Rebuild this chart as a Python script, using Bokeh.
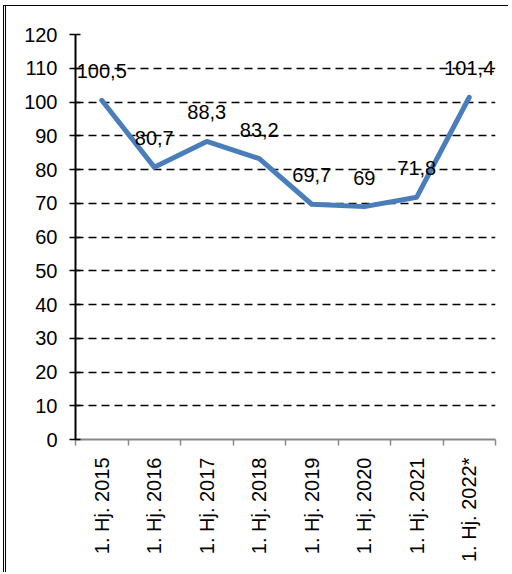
import math
from bokeh.plotting import figure
from bokeh.models import Range1d, FixedTicker, ColumnDataSource
from bokeh.core.properties import value
from bokeh.embed import file_html
from bokeh.resources import INLINE

categories = ["1. Hj. 2015", "1. Hj. 2016", "1. Hj. 2017", "1. Hj. 2018",
              "1. Hj. 2019", "1. Hj. 2020", "1. Hj. 2021", "1. Hj. 2022*"]
values = [100.5, 80.7, 88.3, 83.2, 69.7, 69.0, 71.8, 101.4]
y_ticks = [0, 10, 20, 30, 40, 50, 60, 70, 80, 90, 100, 110, 120]

FONT = "Liberation Sans"
FS = "20px"

xs = [i + 0.5 for i in range(len(categories))]
labels = [f"{v:g}".replace(".", ",") for v in values]
src = ColumnDataSource(dict(x=xs, y=values, label=labels))

p = figure(width=505, height=567, output_backend="svg", toolbar_location=None,
           x_range=Range1d(0, len(categories)), y_range=Range1d(0, 120),
           min_border_left=69, min_border_right=16, min_border_top=28,
           min_border_bottom=134)
p.styles = {"margin-left": "3px", "margin-top": "5px",
            "border-left": "3px double black", "border-top": "1px solid black"}
p.outline_line_color = None
p.background_fill_color = "white"
p.border_fill_color = "white"

# y axis
p.yaxis.ticker = FixedTicker(ticks=y_ticks)
p.yaxis.axis_line_color = "black"
p.yaxis.axis_line_width = 2
p.yaxis.major_tick_line_color = "black"
p.yaxis.major_tick_line_width = 1.5
p.yaxis.major_tick_in = 5
p.yaxis.major_tick_out = 6
p.yaxis.minor_tick_line_color = None
p.yaxis.major_label_standoff = 12
p.yaxis.major_label_text_font = FONT
p.yaxis.major_label_text_font_size = FS
p.yaxis.major_label_text_color = "black"

# x axis
p.xaxis.ticker = FixedTicker(ticks=xs, minor_ticks=list(range(len(categories) + 1)))
p.xaxis.major_label_overrides = {x: c for x, c in zip(xs, categories)}
p.xaxis.major_tick_line_color = None
p.xaxis.minor_tick_line_color = "#888888"
p.xaxis.minor_tick_line_width = 1.5
p.xaxis.minor_tick_in = 0
p.xaxis.minor_tick_out = 6
p.xaxis.axis_line_color = "#888888"
p.xaxis.axis_line_width = 2
p.xaxis.major_label_orientation = math.pi / 2
p.xaxis.major_label_standoff = 12
p.xaxis.major_label_text_font = FONT
p.xaxis.major_label_text_font_size = FS
p.xaxis.major_label_text_color = "black"

# grids
p.xgrid.grid_line_color = None
p.ygrid.ticker = FixedTicker(ticks=y_ticks[1:])
p.ygrid.grid_line_color = "black"
p.ygrid.grid_line_width = 1.6
p.ygrid.grid_line_dash = "8 5"

p.line("x", "y", source=src, line_color="#4A7EBB", line_width=5,
       line_cap="round", line_join="round")
p.text("x", "y", text="label", source=src, text_align="center",
       text_baseline="middle", y_offset=-29, text_font=value(FONT),
       text_font_size=FS, text_color="black")

open("out.html", "w").write(file_html(p, INLINE))
